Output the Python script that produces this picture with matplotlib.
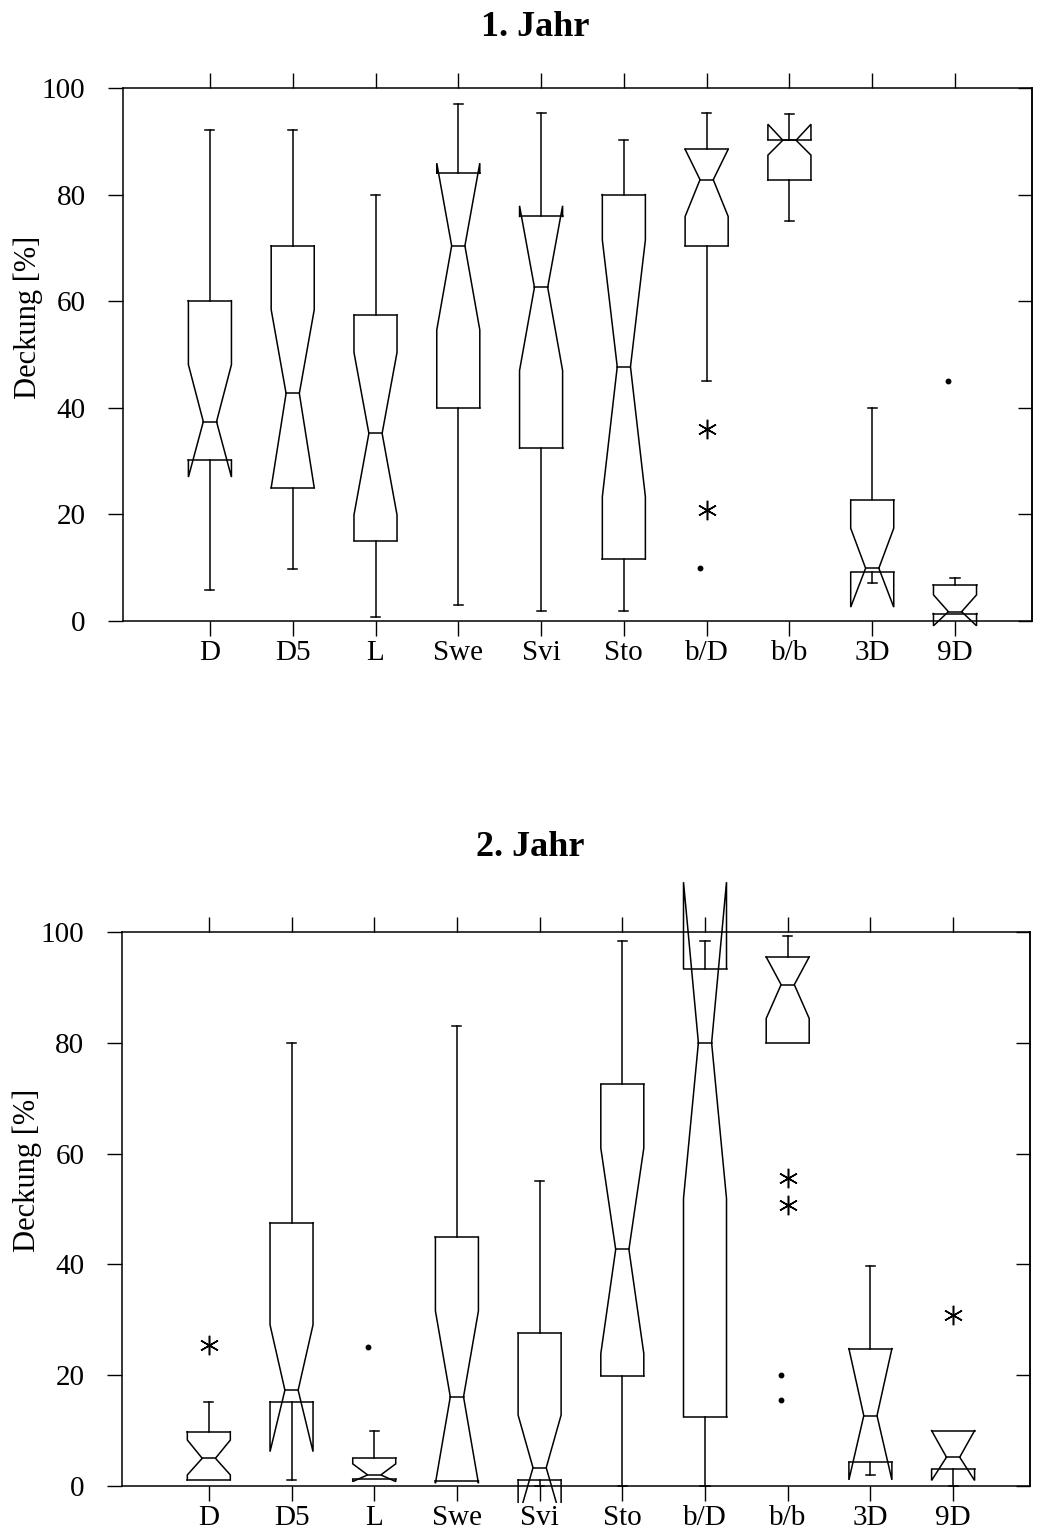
import numpy as np
import matplotlib
matplotlib.use("Agg")
import matplotlib.pyplot as plt
from matplotlib.patches import Rectangle

plt.rcParams['font.family'] = ['Liberation Serif', 'DejaVu Serif']

cats = ['D', 'D5', 'L', 'Swe', 'Svi', 'Sto', 'b/D', 'b/b', '3D', '9D']

# --- 1. Jahr ---
lo1 = [5.8, 9.7, 0.8, 3.0, 1.9, 1.9, 45.0, 75.1, 7.2, 1.4]
q1_1 = [30.2, 25.0, 15.1, 40.0, 32.4, 11.6, 70.4, 82.7, 9.1, 1.4]
nlo1 = [27.0, 25.0, 19.9, 54.6, 47.0, 23.3, 75.9, 87.4, 2.6, -0.9]
med1 = [37.4, 42.7, 35.2, 70.4, 62.6, 47.7, 82.8, 90.2, 9.9, 1.75]
nhi1 = [48.1, 58.4, 50.4, 85.9, 77.9, 71.5, 88.5, 93.2, 17.4, 4.9]
q3_1 = [60.1, 70.4, 57.4, 84.0, 75.9, 80.0, 88.5, 90.3, 22.7, 6.75]
hi1 = [92.1, 92.1, 80.0, 97.0, 95.3, 90.3, 95.3, 95.1, 40.0, 8.0]
star1_cat = ['b/D', 'b/D']
star1_val = [36.0, 20.8]
dot1_cat = ['b/D', '9D']
dot1_val = [10.0, 45.0]

# --- 2. Jahr ---
lo2 = [1.1, 1.1, 1.2, 0.9, 0.0, 0.0, 0.0, 80.0, 2.0, 0.0]
q1_2 = [1.1, 15.2, 1.2, 0.9, 1.1, 19.9, 12.5, 80.0, 4.3, 3.0]
nlo2 = [2.0, 6.2, 0.8, 0.5, -6.0, 23.9, 51.9, 84.4, 1.1, 1.0]
med2 = [5.0, 17.3, 2.0, 16.1, 3.3, 42.7, 80.0, 90.5, 12.7, 5.2]
nhi2 = [8.3, 29.1, 4.0, 31.6, 12.8, 61.0, 109.0, 95.5, 24.8, 10.0]
q3_2 = [9.8, 47.5, 5.0, 44.9, 27.6, 72.5, 93.4, 95.5, 24.8, 10.0]
hi2 = [15.1, 80.0, 9.9, 83.1, 55.1, 98.3, 98.3, 99.2, 39.8, 10.0]
star2_cat = ['D', 'b/b', 'b/b', '9D']
star2_val = [25.5, 55.6, 50.8, 30.8]
dot2_cat = ['L', 'b/b', 'b/b']
dot2_val = [25.1, 20.1, 15.5]

BW = 0.26    # half box width
WW = 0.08    # half waist width at the median
CW = 0.055   # half cap width
LW = 1.1


def seg(ax, xs, ys, clip):
    ln, = ax.plot(xs, ys, color='k', lw=LW, solid_joinstyle='miter')
    ln.set_clip_path(clip)


def panel(ax, lo, q1, nlo, med, nhi, q3, hi, s_cat, s_val, d_cat, d_val):
    pos = np.arange(1, len(cats) + 1)
    clip = Rectangle((-1, -3), 14, 118, transform=ax.transData)
    for i, c in enumerate(pos):
        # notched outline, left and right side
        for s in (-1, 1):
            seg(ax, [c + s * BW, c + s * BW, c + s * WW, c + s * BW, c + s * BW],
                [q1[i], nlo[i], med[i], nhi[i], q3[i]], clip)
        seg(ax, [c - BW, c + BW], [q1[i], q1[i]], clip)
        seg(ax, [c - BW, c + BW], [q3[i], q3[i]], clip)
        seg(ax, [c - WW, c + WW], [med[i], med[i]], clip)
        # whiskers
        if hi[i] > q3[i]:
            seg(ax, [c, c], [q3[i], hi[i]], clip)
            seg(ax, [c - CW, c + CW], [hi[i], hi[i]], clip)
        if lo[i] < q1[i]:
            seg(ax, [c, c], [q1[i], lo[i]], clip)
            seg(ax, [c - CW, c + CW], [lo[i], lo[i]], clip)
    sx = [cats.index(k) + 1 for k in s_cat]
    ax.plot(sx, s_val, ls='none', marker=(6, 2, 0), ms=14, mew=1.1,
            color='k', clip_on=False)
    dx = [cats.index(k) + 1 - 0.08 for k in d_cat]
    ax.plot(dx, d_val, ls='none', marker='o', ms=3.2, color='k', clip_on=False)

    ax.set_xlim(-0.05, 10.93)
    ax.set_ylim(0, 100)
    ax.set_xticks(pos)
    ax.set_xticklabels(cats, fontsize=21)
    ax.set_yticks([0, 20, 40, 60, 80, 100])
    ax.tick_params(axis='x', top=True, bottom=True, direction='out',
                   length=11, width=1, pad=3, labeltop=False)
    ax.tick_params(axis='y', left=True, right=False, direction='out',
                   length=11, width=1, pad=16, labelsize=21)
    for sp in ax.spines.values():
        sp.set_linewidth(1.1)
    sec = ax.secondary_yaxis('right')
    sec.set_yticks([0, 20, 40, 60, 80, 100])
    sec.tick_params(direction='in', length=10, width=1, labelright=False)
    sec.spines['right'].set_linewidth(1.1)
    ax.set_ylabel('Deckung [%]', fontsize=22)
    ax.yaxis.set_label_coords(-0.088, 0.57)


fig = plt.figure(figsize=(10.41, 15.37), dpi=100)
ax1 = fig.add_axes([123 / 1041, 1 - 621 / 1537, 909 / 1041, 533 / 1537])
ax2 = fig.add_axes([122 / 1041, 1 - 1486 / 1537, 908 / 1041, 554 / 1537])

panel(ax1, lo1, q1_1, nlo1, med1, nhi1, q3_1, hi1, star1_cat, star1_val, dot1_cat, dot1_val)
panel(ax2, lo2, q1_2, nlo2, med2, nhi2, q3_2, hi2, star2_cat, star2_val, dot2_cat, dot2_val)

fig.text(0.514, 1 - 28 / 1537, '1. Jahr', ha='center', va='center',
         fontsize=26, fontweight='bold')
fig.text(0.509, 1 - 848 / 1537, '2. Jahr', ha='center', va='center',
         fontsize=26, fontweight='bold')

fig.savefig('out.png', dpi=100)
